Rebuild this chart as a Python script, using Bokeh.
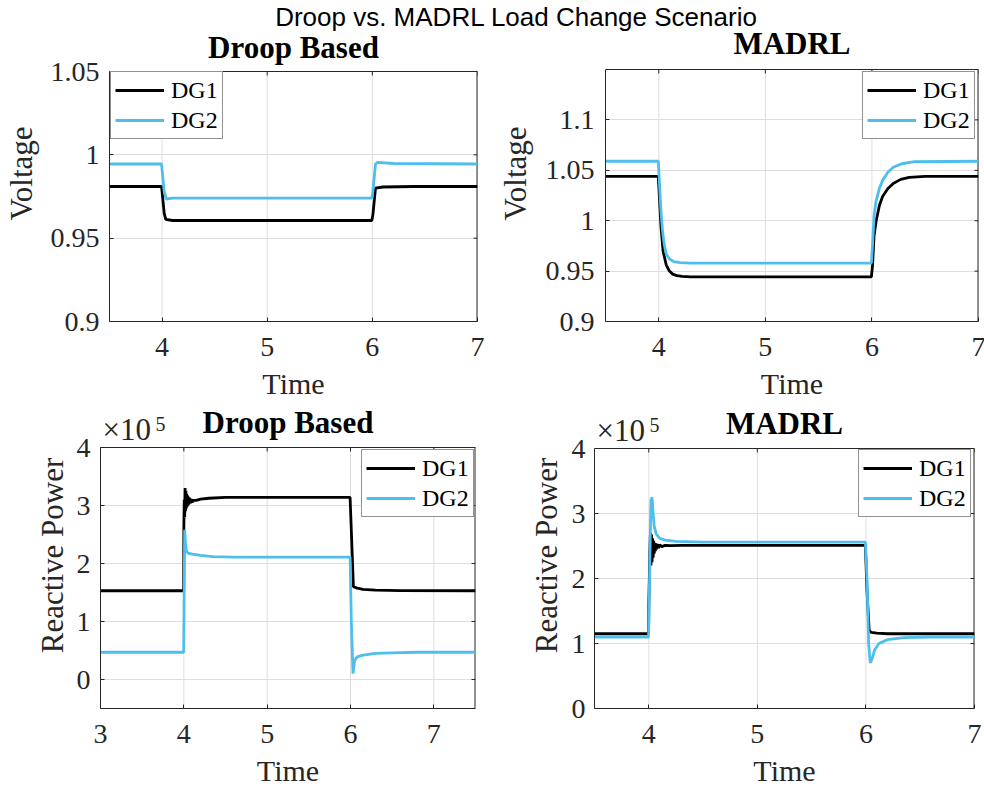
from bokeh.plotting import figure
from bokeh.models import Range1d, FixedTicker, Legend, LegendItem, Div
from bokeh.core.properties import value
from bokeh.layouts import column, row
from bokeh.embed import file_html
from bokeh.resources import INLINE

# ---------------- data ----------------
suptitle = "Droop vs. MADRL Load Change Scenario"
titles = ["Droop Based", "MADRL", "Droop Based", "MADRL"]
series_names = ["DG1", "DG2"]
x_label = "Time"
y_labels = ["Voltage", "Voltage", "Reactive Power", "Reactive Power"]

# Droop voltage
v_droop_t1 = [3.5, 3.995, 4.0, 4.02, 4.035, 4.1, 5.995, 6.005, 6.03, 6.1, 6.4, 7.0]
v_droop_dg1 = [0.981, 0.981, 0.978, 0.965, 0.9613, 0.9606, 0.9606, 0.964, 0.980, 0.9807, 0.981, 0.981]
v_droop_t2 = [3.5, 3.995, 4.0, 4.02, 4.04, 4.1, 5.995, 6.005, 6.03, 6.05, 6.2, 7.0]
v_droop_dg2 = [0.9945, 0.9945, 0.991, 0.978, 0.9735, 0.974, 0.974, 0.978, 0.9945, 0.9955, 0.9948, 0.9945]

# MADRL voltage
v_madrl_t1 = [3.5, 3.995, 4.0, 4.02, 4.04, 4.07, 4.1, 4.13, 4.17, 4.22, 4.3, 5.995,
              6.005, 6.02, 6.04, 6.07, 6.1, 6.15, 6.2, 6.27, 6.35, 6.5, 7.0]
v_madrl_dg1 = [1.044, 1.044, 1.035, 0.995, 0.97, 0.956, 0.95, 0.947, 0.9455, 0.9447, 0.9443, 0.9443,
               0.955, 0.985, 1.0, 1.015, 1.024, 1.032, 1.037, 1.041, 1.043, 1.044, 1.044]
v_madrl_t2 = [3.5, 3.995, 4.0, 4.02, 4.035, 4.05, 4.07, 4.1, 4.14, 4.2, 4.3, 5.995,
              6.005, 6.02, 6.04, 6.07, 6.1, 6.15, 6.2, 6.28, 6.4, 7.0]
v_madrl_dg2 = [1.059, 1.059, 1.05, 1.01, 0.99, 0.977, 0.967, 0.962, 0.9595, 0.9585, 0.958, 0.958,
               0.975, 1.005, 1.02, 1.032, 1.04, 1.048, 1.053, 1.0565, 1.0585, 1.059]

# Droop reactive power (x 1e5)
q_droop_t1 = [3.0, 3.998, 4.0, 4.005, 4.01, 4.015, 4.02, 4.025, 4.03, 4.035, 4.04, 4.045, 4.05,
              4.055, 4.06, 4.07, 4.08, 4.09, 4.1, 4.12, 4.15, 4.2, 4.3, 4.5, 5.995, 6.035,
              6.08, 6.15, 6.3, 6.6, 7.5]
q_droop_dg1 = [1.53, 1.53, 2.6, 3.1, 2.8, 3.3, 2.9, 3.25, 2.95, 3.2, 2.98, 3.17, 3.0,
               3.15, 3.02, 3.13, 3.04, 3.11, 3.06, 3.09, 3.09, 3.11, 3.125, 3.14, 3.14, 1.6,
               1.575, 1.555, 1.54, 1.533, 1.53]
q_droop_t2 = [3.0, 3.998, 4.01, 4.02, 4.03, 4.05, 4.1, 4.2, 4.35, 4.6, 5.995, 6.01, 6.03,
              6.05, 6.08, 6.15, 6.3, 6.5, 6.8, 7.5]
q_droop_dg2 = [0.47, 0.47, 2.58, 2.35, 2.22, 2.18, 2.16, 2.14, 2.12, 2.11, 2.11, 1.0, 0.1,
               0.33, 0.39, 0.42, 0.45, 0.46, 0.47, 0.47]

# MADRL reactive power (x 1e5)
q_madrl_t1 = [3.5, 3.998, 4.0, 4.01, 4.015, 4.02, 4.025, 4.03, 4.035, 4.04, 4.045, 4.05, 4.055,
              4.06, 4.065, 4.07, 4.08, 4.09, 4.1, 4.12, 4.15, 4.2, 4.3, 5.995, 6.01, 6.03,
              6.05, 6.1, 6.2, 7.0]
q_madrl_dg1 = [1.15, 1.15, 1.6, 2.4, 2.7, 2.2, 2.68, 2.25, 2.62, 2.32, 2.58, 2.38, 2.55,
               2.42, 2.54, 2.45, 2.53, 2.47, 2.52, 2.49, 2.51, 2.505, 2.51, 2.51, 1.8, 1.2,
               1.17, 1.16, 1.15, 1.15]
q_madrl_t2 = [3.5, 3.998, 4.01, 4.02, 4.03, 4.04, 4.05, 4.07, 4.1, 4.15, 4.25, 4.5, 5.995,
              6.01, 6.025, 6.04, 6.06, 6.08, 6.12, 6.2, 6.35, 6.6, 7.0]
q_madrl_dg2 = [1.1, 1.1, 2.3, 3.2, 3.25, 3.0, 2.8, 2.68, 2.62, 2.59, 2.57, 2.56, 2.56,
               2.0, 1.0, 0.7, 0.78, 0.9, 1.0, 1.06, 1.09, 1.1, 1.1]

# axis ticks and labels
x_ticks_a = [4, 5, 6, 7]
x_ticks_b = [3, 4, 5, 6, 7]
v_droop_yticks = [0.9, 0.95, 1.0, 1.05]
v_droop_ylabels = ["0.9", "0.95", "1", "1.05"]
v_madrl_yticks = [0.9, 0.95, 1.0, 1.05, 1.1]
v_madrl_ylabels = ["0.9", "0.95", "1", "1.05", "1.1"]
q_yticks = [0, 1, 2, 3, 4]
exp_base = "×10"
exp_power = "5"

# ---------------- style ----------------
SERIF = "Liberation Serif"
AX = "#262626"
GRID = "#dedede"
BLUE = "#4DBEEE"
BLACK = "#000000"
LW = 2.8
TICK = 4  # inward tick length, px


def make_panel(cfg):
    """cfg holds the axes box geometry (pixels) and ranges."""
    x0, x1 = cfg["xr"]
    y0, y1 = cfg["yr"]
    ppu = cfg["box_h"] / (y1 - y0)           # pixels per y unit
    xpu = cfg["fw"] / (x1 - x0)              # pixels per x unit
    head = cfg["head"]                       # pixels of frame above the axes box
    fh = cfg["box_h"] + head
    p = figure(x_range=Range1d(x0, x1), y_range=Range1d(y0, y1 + head / ppu),
               frame_width=cfg["fw"], frame_height=fh,
               min_border_left=cfg["bl"], min_border_right=cfg["br"],
               min_border_top=0, min_border_bottom=cfg["bb"],
               output_backend="svg", toolbar_location=None)
    p.background_fill_alpha = 0
    p.border_fill_alpha = 0
    p.outline_line_color = None
    xt, yt = cfg["xt"], cfg["yt"]
    for ax in (p.xaxis[0], p.yaxis[0]):
        ax.axis_line_color = AX
        ax.major_tick_line_color = AX
        ax.major_tick_in = TICK
        ax.major_tick_out = 0
        ax.minor_tick_line_color = None
        ax.major_label_text_font = SERIF
        ax.major_label_text_font_size = "28px"
        ax.major_label_text_color = AX
        ax.axis_label_text_font = SERIF
        ax.axis_label_text_font_style = "normal"
        ax.axis_label_text_color = AX
    p.yaxis[0].bounds = (y0, y1)
    p.xaxis[0].ticker = FixedTicker(ticks=xt)
    p.yaxis[0].ticker = FixedTicker(ticks=yt)
    if cfg.get("ylabels") is not None:
        p.yaxis[0].major_label_overrides = {float(v): s for v, s in zip(yt, cfg["ylabels"])}
    p.xaxis[0].axis_label = x_label
    p.xaxis[0].axis_label_text_font_size = "30px"
    p.xaxis[0].major_label_standoff = 16
    p.xaxis[0].axis_label_standoff = 8
    p.yaxis[0].axis_label = cfg["ylab"]
    p.yaxis[0].axis_label_text_font_size = "31px"
    p.yaxis[0].major_label_standoff = cfg["ys1"]
    p.yaxis[0].axis_label_standoff = cfg["ys2"]
    # grid: horizontal from Bokeh, vertical drawn only inside the axes box
    p.xgrid.grid_line_color = None
    p.ygrid.grid_line_color = GRID
    p.ygrid.ticker = FixedTicker(ticks=yt)
    p.segment(x0=xt, y0=[y0] * len(xt), x1=xt, y1=[y1] * len(xt),
              line_color=GRID, line_width=1)
    # top and right edges of the axes box, with inward ticks
    p.segment(x0=[x0, x1], y0=[y1, y0], x1=[x1, x1], y1=[y1, y1],
              line_color=AX, line_width=[1, 2])
    p.segment(x0=xt, y0=[y1] * len(xt), x1=xt, y1=[y1 - TICK / ppu] * len(xt),
              line_color=AX, line_width=1)
    p.segment(x0=[x1] * len(yt), y0=yt, x1=[x1 - TICK / xpu] * len(yt), y1=yt,
              line_color=AX, line_width=1)
    # subplot title above the box (text anchored at its middle)
    p.text(x=[(x0 + x1) / 2], y=[y1 + cfg["title_up"] / ppu], text=[cfg["title"]],
           text_font=value(SERIF), text_font_size="31px", text_font_style="bold",
           text_color="#000000", text_align="center", text_baseline="middle")
    if cfg.get("exp"):
        p.text(x=[x0 + 2 / xpu], y=[y1 + 18 / ppu], text=[exp_base],
               text_font=value(SERIF), text_font_size="31px", text_color=AX,
               text_align="left", text_baseline="middle")
        p.text(x=[x0 + 55 / xpu], y=[y1 + 24 / ppu], text=[exp_power],
               text_font=value(SERIF), text_font_size="20px", text_color=AX,
               text_align="left", text_baseline="middle")
    return p


def add_series(p, t1, y1, t2, y2, loc):
    r1 = p.line(t1, y1, line_color=BLACK, line_width=LW)
    r2 = p.line(t2, y2, line_color=BLUE, line_width=LW)
    leg = Legend(items=[LegendItem(label=series_names[0], renderers=[r1]),
                        LegendItem(label=series_names[1], renderers=[r2])],
                 location=loc, padding=4, spacing=2,
                 glyph_width=49, glyph_height=28, label_height=28, label_standoff=7,
                 label_text_font=SERIF, label_text_font_size="24px",
                 label_text_color="#000000",
                 border_line_color=AX, border_line_width=1,
                 background_fill_color="white", background_fill_alpha=1)
    p.add_layout(leg)


TOP = 25      # height of the suptitle strip
ROW2 = 402    # where the lower row of panels starts

cfg1 = dict(xr=(3.5, 7.0), yr=(0.9, 1.05), fw=368, box_h=250, head=71 - TOP, bl=107, br=17,
            bb=ROW2 - 321, xt=x_ticks_a, yt=v_droop_yticks, ylabels=v_droop_ylabels,
            ylab=y_labels[0], ys1=10, ys2=9, title=titles[0], title_up=24.5)
cfg2 = dict(xr=(3.5, 7.0), yr=(0.9, 1.15), fw=373, box_h=252, head=69 - TOP, bl=109, br=10,
            bb=ROW2 - 321, xt=x_ticks_a, yt=v_madrl_yticks, ylabels=v_madrl_ylabels,
            ylab=y_labels[1], ys1=11, ys2=10, title=titles[1], title_up=26)
cfg3 = dict(xr=(3.0, 7.5), yr=(-0.5, 4.0), fw=375, box_h=261, head=447 - ROW2, bl=100, br=17,
            bb=81, xt=x_ticks_b, yt=q_yticks, ylab=y_labels[2],
            ys1=10, ys2=4, title=titles[2], title_up=25.5, exp=True)
cfg4 = dict(xr=(3.5, 7.0), yr=(0.0, 4.0), fw=380, box_h=260, head=448 - ROW2, bl=102, br=10,
            bb=81, xt=x_ticks_a, yt=q_yticks, ylab=y_labels[3],
            ys1=9, ys2=5, title=titles[3], title_up=25, exp=True)

p1 = make_panel(cfg1)
add_series(p1, v_droop_t1, v_droop_dg1, v_droop_t2, v_droop_dg2, (1, 182))
p2 = make_panel(cfg2)
add_series(p2, v_madrl_t1, v_madrl_dg1, v_madrl_t2, v_madrl_dg2, (257, 182))
p3 = make_panel(cfg3)
add_series(p3, q_droop_t1, q_droop_dg1, q_droop_t2, q_droop_dg2, (261, 191))
p4 = make_panel(cfg4)
add_series(p4, q_madrl_t1, q_madrl_dg1, q_madrl_t2, q_madrl_dg2, (264, 191))

head_div = Div(text=('<div style="position:relative;left:24px;top:5px;width:984px;text-align:center;'
                     'font-family:\'Liberation Sans\';font-size:26px;line-height:25px;'
                     'color:#000;white-space:nowrap">' + suptitle + '</div>'),
               width=984, height=TOP, margin=(0, 0, 0, 0),
               styles={"overflow": "visible", "z-index": "2"})

layout = column(head_div, row(p1, p2), row(p3, p4))

open("out.html", "w").write(file_html(layout, INLINE))
